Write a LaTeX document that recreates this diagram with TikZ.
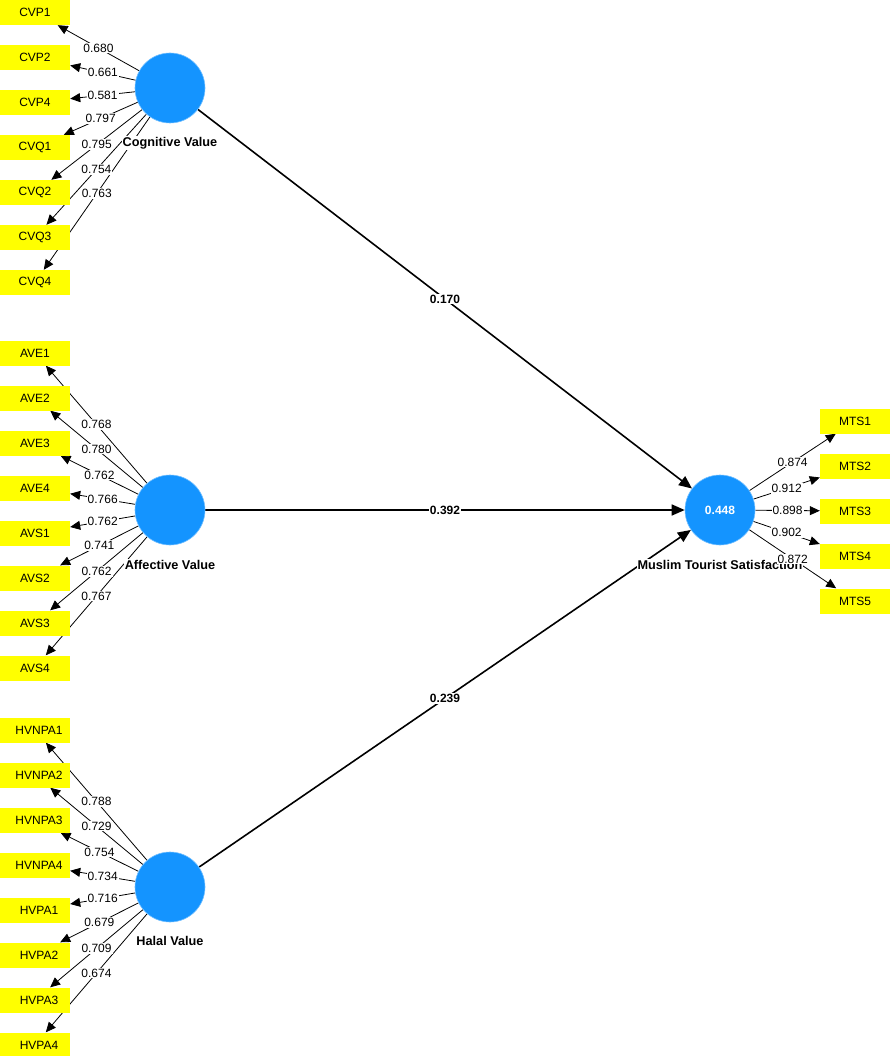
\documentclass[tikz,border=0pt]{standalone}
\usepackage{fontspec}
\setmainfont{Liberation Sans}
\usetikzlibrary{arrows.meta}
\definecolor{lvblue}{RGB}{20,148,255}
\definecolor{mvyellow}{RGB}{255,255,0}
\pgfdeclarelayer{bg}
\pgfdeclarelayer{mid}
\pgfsetlayers{bg,mid,main}
\begin{document}
\begin{tikzpicture}[x=1pt,y=-1pt,
  lv/.style={circle,fill=lvblue,draw=lvblue!60!white,line width=0.6pt,minimum size=70pt,inner sep=0pt},
  mv/.style={rectangle,fill=mvyellow,minimum width=70pt,minimum height=25pt,inner sep=0pt,font=\fontsize{12}{14}\selectfont},
  ld/.style={-{Triangle[length=10pt,width=9pt]},line width=0.8pt},
  pth/.style={-{Triangle[length=13pt,width=11pt]},line width=1.6pt},
  lbl/.style={fill=white,inner sep=1pt,font=\fontsize{12}{14}\selectfont},
  plbl/.style={fill=white,inner sep=1pt,font=\fontsize{12}{14}\selectfont\bfseries},
  lvname/.style={fill=white,inner sep=1pt,font=\fontsize{12.7}{14}\selectfont\bfseries}]
\useasboundingbox (0,0) rectangle (890,1056);
% latent variables
\node[lv] (CV) at (170,88) {};
\node[lv] (AV) at (170,510) {};
\node[lv] (HV) at (170,887) {};
\node[lv,text=white,font=\fontsize{12}{14}\selectfont\bfseries] (MTS) at (720,510) {0.448};
% names
\begin{pgfonlayer}{mid}
\node[lvname] (CVn) at (170,143) {Cognitive Value};
\node[lvname] (AVn) at (170,565) {Affective Value};
\node[lvname] (HVn) at (170,941) {Halal Value};
\node[lvname] (MTSn) at (720,565) {Muslim Tourist Satisfaction};
\end{pgfonlayer}
% cognitive indicators
\foreach \n/\l [count=\i from 0] in {CVP1/0.680,CVP2/0.661,CVP4/0.581,CVQ1/0.797,CVQ2/0.795,CVQ3/0.754,CVQ4/0.763}{
  \node[mv] (\n) at (35,12.5+45*\i) {\n};
  \begin{pgfonlayer}{bg}
  \draw[ld] (CV) -- (\n) coordinate[midway] (m\n);
  \end{pgfonlayer}
  \node[lbl] (t\n) at (m\n) {\l};
}
% affective indicators
\foreach \n/\l [count=\i from 0] in {AVE1/0.768,AVE2/0.780,AVE3/0.762,AVE4/0.766,AVS1/0.762,AVS2/0.741,AVS3/0.762,AVS4/0.767}{
  \node[mv] (\n) at (35,353+45*\i) {\n};
  \begin{pgfonlayer}{bg}
  \draw[ld] (AV) -- (\n) coordinate[midway] (m\n);
  \end{pgfonlayer}
  \node[lbl] (t\n) at (m\n) {\l};
}
% halal indicators
\foreach \n/\l [count=\i from 0] in {HVNPA1/0.788,HVNPA2/0.729,HVNPA3/0.754,HVNPA4/0.734,HVPA1/0.716,HVPA2/0.679,HVPA3/0.709,HVPA4/0.674}{
  \node[mv] (\n) at (35,730+45*\i) {\hspace*{8pt}\n};
  \begin{pgfonlayer}{bg}
  \draw[ld] (HV) -- (\n) coordinate[midway] (m\n);
  \end{pgfonlayer}
  \node[lbl] (t\n) at (m\n) {\l};
}
% satisfaction indicators
\foreach \n/\l [count=\i from 0] in {MTS1/0.874,MTS2/0.912,MTS3/0.898,MTS4/0.902,MTS5/0.872}{
  \node[mv] (\n) at (855,421+45*\i) {\n};
  \begin{pgfonlayer}{bg}
  \draw[ld] (MTS) -- (\n) coordinate[midway] (m\n);
  \end{pgfonlayer}
  \node[lbl] (t\n) at (m\n) {\l};
}
% structural paths
\begin{pgfonlayer}{bg}
\draw[pth] (CV) -- (MTS) coordinate[midway] (p1);
\draw[pth] (AV) -- (MTS) coordinate[midway] (p2);
\draw[pth] (HV) -- (MTS) coordinate[midway] (p3);
\end{pgfonlayer}
\node[plbl] (tp1) at (p1) {0.170};
\node[plbl] (tp2) at (p2) {0.392};
\node[plbl] (tp3) at (p3) {0.239};
\end{tikzpicture}
\end{document}
